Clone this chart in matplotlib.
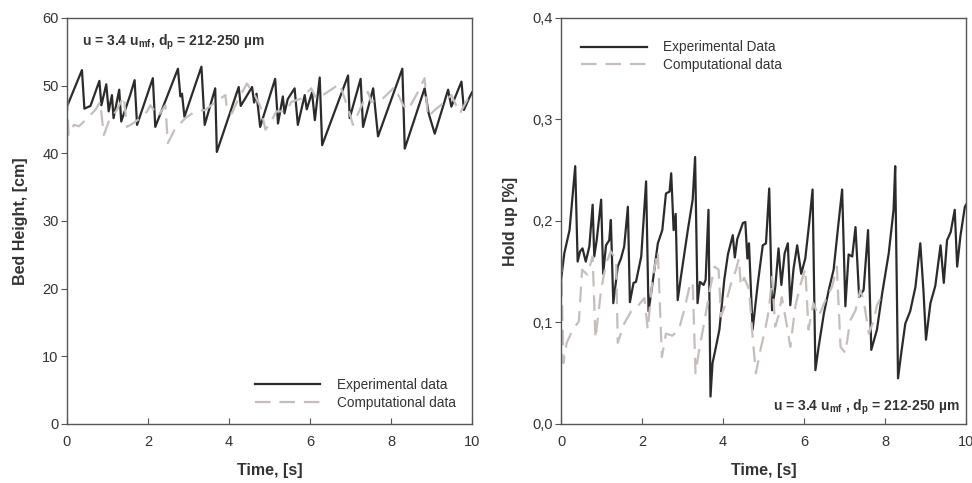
import numpy as np
import matplotlib
matplotlib.use("Agg")
import matplotlib.pyplot as plt
from matplotlib.ticker import FuncFormatter

plt.rcParams['font.family'] = ['Liberation Sans', 'DejaVu Sans']
plt.rcParams['mathtext.fontset'] = 'custom'
plt.rcParams['mathtext.rm'] = 'Liberation Sans'
plt.rcParams['mathtext.bf'] = 'Liberation Sans:bold'

# bed height [cm], experimental
bed_exp_t = [0.0, 0.37, 0.43, 0.58, 0.80, 0.85, 0.97, 1.03, 1.11, 1.15, 1.29, 1.34, 1.56, 1.67,
             1.73, 2.12, 2.18, 2.74, 2.80, 2.84, 2.90, 3.32, 3.40, 3.66, 3.70, 4.24, 4.29, 4.57,
             4.62, 4.68, 4.77, 5.14, 5.21, 5.33, 5.37, 5.45, 5.62, 5.70, 5.87, 5.92, 6.05, 6.12,
             6.24, 6.30, 6.94, 6.98, 7.25, 7.31, 7.56, 7.68, 8.28, 8.34, 8.83, 8.93, 9.08, 9.41,
             9.49, 9.74, 9.80, 9.94, 10.0]
bed_exp_h = [46.9, 52.3, 46.6, 47.0, 50.7, 47.1, 50.2, 46.2, 48.6, 45.2, 49.4, 44.7, 48.6, 50.8,
             44.2, 51.1, 43.9, 52.5, 48.4, 48.8, 45.4, 52.8, 44.2, 49.6, 40.2, 49.8, 47.0, 49.8,
             47.5, 48.8, 43.9, 51.0, 44.4, 48.4, 45.9, 48.0, 49.6, 44.2, 48.6, 46.5, 49.0, 44.9,
             51.2, 41.2, 51.5, 45.2, 51.0, 43.9, 49.6, 42.5, 52.5, 40.7, 49.6, 45.9, 42.9, 49.4,
             46.9, 50.6, 46.4, 48.3, 49.0]

# bed height [cm], computational
bed_cfd_t = [0.0, 0.04, 0.17, 0.30, 0.45, 0.70, 0.82, 0.91, 1.03, 1.23, 1.40, 1.48, 1.65, 1.81,
             1.98, 2.06, 2.25, 2.43, 2.49, 2.65, 2.92, 3.17, 3.41, 3.65, 3.91, 3.95, 4.07, 4.20,
             4.44, 4.61, 4.77, 4.90, 5.04, 5.17, 5.41, 5.54, 5.79, 6.03, 6.15, 6.32, 6.57, 6.73,
             6.98, 7.06, 7.43, 7.51, 7.80, 8.09, 8.30, 8.42, 8.67, 8.83, 8.91, 9.10, 9.33, 9.49,
             9.70, 9.90, 10.0]
bed_cfd_h = [48.6, 42.7, 44.2, 44.0, 44.9, 46.4, 47.6, 42.7, 44.7, 46.4, 48.4, 43.9, 44.5, 45.2,
             46.2, 47.1, 45.5, 47.1, 41.5, 43.4, 45.2, 46.2, 46.4, 47.5, 48.6, 46.4, 45.9, 47.6,
             50.3, 48.9, 47.0, 43.5, 44.7, 46.2, 46.2, 47.6, 48.1, 49.6, 48.1, 48.6, 49.6, 50.3,
             45.9, 44.2, 49.1, 47.6, 48.1, 49.8, 47.1, 46.4, 49.1, 51.1, 45.4, 46.5, 47.6, 48.6,
             45.9, 48.1, 47.5]

# hold up [%], experimental
hold_exp_t = [0.0, 0.08, 0.21, 0.35, 0.41, 0.47, 0.53, 0.61, 0.70, 0.78, 0.82, 0.88, 0.99, 1.04,
              1.11, 1.19, 1.23, 1.29, 1.40, 1.48, 1.56, 1.65, 1.70, 1.79, 1.85, 1.98, 2.10, 2.16,
              2.27, 2.39, 2.50, 2.59, 2.68, 2.72, 2.78, 2.83, 2.88, 2.96, 3.13, 3.25, 3.31, 3.37,
              3.43, 3.52, 3.57, 3.64, 3.69, 3.74, 3.82, 3.91, 4.03, 4.12, 4.24, 4.29, 4.35, 4.49,
              4.55, 4.60, 4.64, 4.73, 4.86, 4.98, 5.06, 5.14, 5.21, 5.29, 5.37, 5.44, 5.52, 5.60,
              5.66, 5.74, 5.83, 5.93, 6.03, 6.13, 6.21, 6.28, 6.36, 6.49, 6.61, 6.73, 6.84, 6.94,
              7.02, 7.10, 7.19, 7.27, 7.36, 7.47, 7.58, 7.66, 7.80, 7.93, 8.09, 8.21, 8.25, 8.32,
              8.40, 8.50, 8.62, 8.75, 8.87, 8.95, 9.01, 9.12, 9.24, 9.37, 9.45, 9.53, 9.62, 9.72,
              9.78, 9.86, 9.97, 10.0]
hold_exp_v = [0.142, 0.168, 0.191, 0.254, 0.160, 0.170, 0.173, 0.160, 0.175, 0.216, 0.165, 0.181,
              0.221, 0.148, 0.176, 0.181, 0.201, 0.119, 0.155, 0.163, 0.175, 0.214, 0.120, 0.139,
              0.140, 0.165, 0.239, 0.111, 0.142, 0.178, 0.191, 0.227, 0.229, 0.247, 0.191, 0.207,
              0.122, 0.145, 0.191, 0.221, 0.263, 0.119, 0.140, 0.137, 0.142, 0.211, 0.027, 0.060,
              0.075, 0.093, 0.142, 0.167, 0.186, 0.164, 0.182, 0.198, 0.199, 0.163, 0.178, 0.093,
              0.139, 0.176, 0.178, 0.232, 0.112, 0.135, 0.173, 0.137, 0.168, 0.178, 0.117, 0.153,
              0.176, 0.148, 0.163, 0.199, 0.231, 0.053, 0.076, 0.109, 0.132, 0.152, 0.194, 0.231,
              0.116, 0.167, 0.165, 0.194, 0.125, 0.132, 0.191, 0.073, 0.093, 0.129, 0.168, 0.211,
              0.254, 0.045, 0.070, 0.099, 0.111, 0.135, 0.178, 0.130, 0.083, 0.119, 0.136, 0.176,
              0.139, 0.181, 0.189, 0.211, 0.155, 0.185, 0.214, 0.216]

# hold up [%], computational
hold_cfd_t = [0.0, 0.06, 0.14, 0.29, 0.44, 0.52, 0.65, 0.78, 0.85, 0.99, 1.11, 1.23, 1.36, 1.40,
              1.56, 1.73, 1.89, 2.06, 2.14, 2.26, 2.39, 2.49, 2.59, 2.75, 2.91, 3.04, 3.17, 3.25,
              3.32, 3.41, 3.54, 3.66, 3.79, 3.89, 3.95, 4.07, 4.20, 4.32, 4.39, 4.44, 4.52, 4.64,
              4.73, 4.81, 4.94, 5.04, 5.13, 5.21, 5.29, 5.37, 5.45, 5.58, 5.66, 5.79, 5.91, 6.03,
              6.11, 6.23, 6.36, 6.53, 6.69, 6.81, 6.90, 7.02, 7.14, 7.27, 7.39, 7.47, 7.60, 7.72,
              7.80, 7.89]
hold_cfd_v = [0.165, 0.060, 0.080, 0.093, 0.101, 0.152, 0.147, 0.165, 0.084, 0.132, 0.158, 0.170,
              0.162, 0.080, 0.099, 0.111, 0.116, 0.124, 0.093, 0.144, 0.170, 0.066, 0.089, 0.087,
              0.093, 0.112, 0.135, 0.140, 0.050, 0.073, 0.101, 0.129, 0.155, 0.152, 0.106, 0.119,
              0.139, 0.152, 0.163, 0.136, 0.144, 0.133, 0.086, 0.050, 0.076, 0.093, 0.112, 0.145,
              0.096, 0.107, 0.125, 0.096, 0.076, 0.117, 0.137, 0.153, 0.093, 0.119, 0.106, 0.122,
              0.135, 0.155, 0.076, 0.070, 0.102, 0.112, 0.132, 0.122, 0.089, 0.102, 0.117, 0.124]

exp_color = '#2b2b2b'
cfd_color = '#c6bebb'
text_color = '#333333'
spine_color = '#555555'

fig = plt.figure(figsize=(9.72, 4.83), dpi=100)
ax1 = fig.add_axes([0.0689, 0.1222, 0.4167, 0.8406])
ax2 = fig.add_axes([0.5772, 0.1222, 0.4167, 0.8406])


def style(ax):
    for sp in ax.spines.values():
        sp.set_color(spine_color)
        sp.set_linewidth(1.0)
    ax.tick_params(axis='x', direction='in', length=4, color=spine_color,
                   labelsize=10.5, labelcolor=text_color, pad=8, top=False)
    ax.tick_params(axis='y', direction='out', length=4, color=spine_color,
                   labelsize=10.5, labelcolor=text_color, pad=2, right=False)
    ax.set_xlim(0, 10)
    ax.set_xticks([0, 2, 4, 6, 8, 10])
    ax.set_xlabel('Time, [s]', fontsize=11.5, fontweight='bold', color=text_color, labelpad=10)


# left panel: bed height
style(ax1)
ax1.plot(bed_exp_t, bed_exp_h, color=exp_color, lw=1.6, label='Experimental data')
ax1.plot(bed_cfd_t, bed_cfd_h, color=cfd_color, lw=1.6, dashes=(7, 4), label='Computational data')
ax1.set_ylim(0, 60)
ax1.set_yticks([0, 10, 20, 30, 40, 50, 60])
ax1.set_ylabel('Bed Height, [cm]', fontsize=11.5, fontweight='bold', color=text_color, labelpad=10)
ax1.text(0.037, 0.94, r'u = 3.4 u$_{\mathbf{mf}}$, d$_{\mathbf{p}}$ = 212-250 µm',
         transform=ax1.transAxes, fontsize=10, fontweight='bold', color=text_color, va='center')
leg1 = ax1.legend(loc='lower right', bbox_to_anchor=(0.99, 0.005), frameon=False, fontsize=9.8,
                  handlelength=4.8, handletextpad=1.2, labelspacing=0.28)
for t in leg1.get_texts():
    t.set_color(text_color)

# right panel: hold up
style(ax2)
ax2.plot(hold_exp_t, hold_exp_v, color=exp_color, lw=1.6, label='Experimental Data')
ax2.plot(hold_cfd_t, hold_cfd_v, color=cfd_color, lw=1.6, dashes=(7, 4), label='Computational data')
ax2.set_ylim(0, 0.4)
ax2.set_yticks([0, 0.1, 0.2, 0.3, 0.4])
ax2.yaxis.set_major_formatter(FuncFormatter(lambda v, p: ('%.1f' % v).replace('.', ',')))
ax2.set_ylabel('Hold up [%]', fontsize=11.5, fontweight='bold', color=text_color, labelpad=10)
ax2.text(0.985, 0.04, r'u = 3.4 u$_{\mathbf{mf}}$ , d$_{\mathbf{p}}$ = 212-250 µm',
         transform=ax2.transAxes, fontsize=10, fontweight='bold', color=text_color,
         ha='right', va='center')
leg2 = ax2.legend(loc='upper left', bbox_to_anchor=(0.02, 0.975), frameon=False, fontsize=9.8,
                  handlelength=4.8, handletextpad=1.2, labelspacing=0.28)
for t in leg2.get_texts():
    t.set_color(text_color)

fig.savefig('out.png', dpi=100)
